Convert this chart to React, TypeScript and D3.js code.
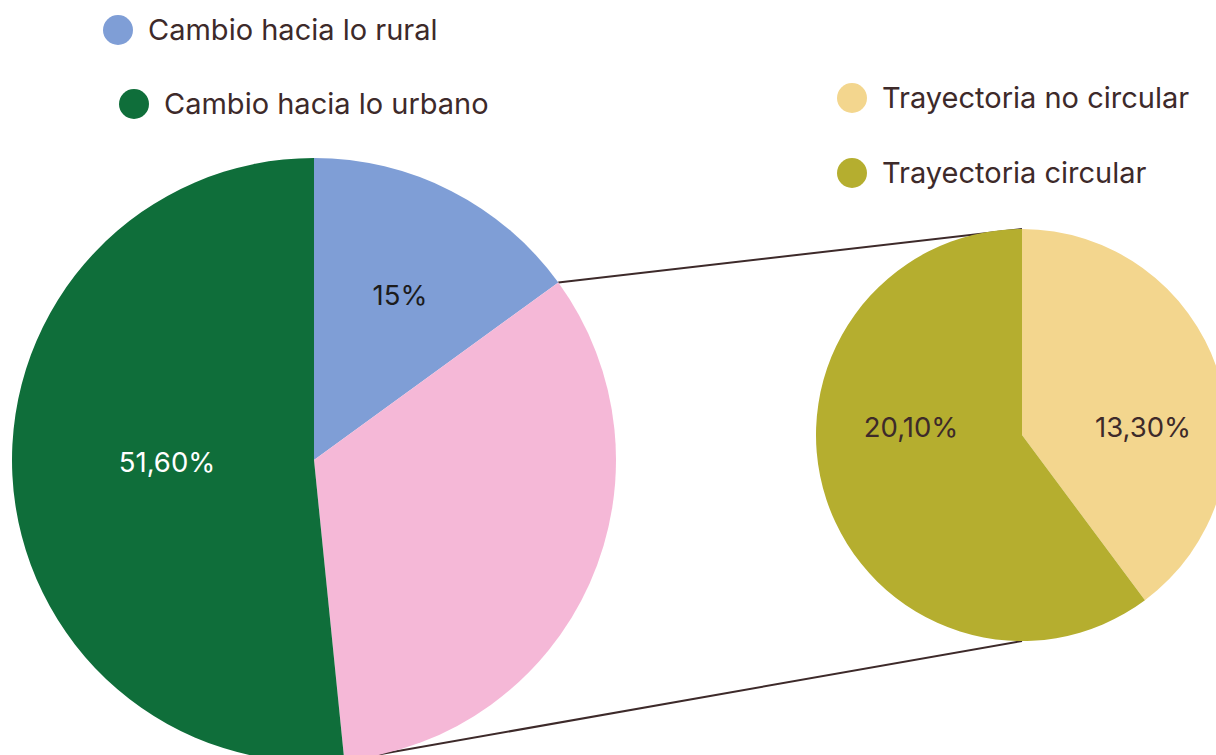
import React, { useEffect, useRef } from 'react';
import * as d3 from 'd3';

// main pie: rural, circular total (exploded), urbano
const mainNames = ['Cambio hacia lo rural', 'Detalle', 'Cambio hacia lo urbano'];
const mainValues = [15, 33.4, 51.6];
const mainLabels = ['15%', '', '51,60%'];
const mainColors = ['#7f9ed6', '#f5b8d7', '#0f6e3a'];

// detail pie: breakdown of the pink slice
const subNames = ['Trayectoria no circular', 'Trayectoria circular'];
const subValues = [13.3, 20.1];
const subLabels = ['13,30%', '20,10%'];
const subColors = ['#f3d68e', '#b5ae2f'];

const W = 1216;
const H = 755;
const FONT = 'Inter, "Noto Sans", sans-serif';
const TEXT = '#3d2a2a';

export default function App() {
  const svgRef = useRef<SVGSVGElement | null>(null);

  useEffect(() => {
    const svg = d3.select(svgRef.current);
    svg.selectAll('*').remove();

    const big = { cx: 314, cy: 460, r: 302 };
    const small = { cx: 1022, cy: 435, r: 206 };

    const pie = d3.pie<number>().sort(null).value(d => d);
    const mainArcs = pie(mainValues);
    const subArcs = pie(subValues);

    // connector lines from pink slice edges to top / bottom of detail pie
    const pink = mainArcs[1];
    const edge = (c: typeof big, a: number) => [c.cx + c.r * Math.sin(a), c.cy - c.r * Math.cos(a)];
    const [x1, y1] = edge(big, pink.startAngle);
    const [x2, y2] = edge(big, pink.endAngle);
    const [sx1, sy1] = edge(small, 0);
    const [sx2, sy2] = edge(small, Math.PI);

    const links = svg.append('g').attr('stroke', TEXT).attr('stroke-width', 2);
    links.append('line').attr('x1', x1).attr('y1', y1).attr('x2', sx1).attr('y2', sy1);
    links.append('line').attr('x1', x2).attr('y1', y2).attr('x2', sx2).attr('y2', sy2);

    const bigArc = d3.arc<d3.PieArcDatum<number>>().innerRadius(0).outerRadius(big.r);
    const gBig = svg.append('g').attr('transform', `translate(${big.cx},${big.cy})`);
    gBig.selectAll('path')
      .data(mainArcs)
      .join('path')
      .attr('d', bigArc)
      .attr('fill', (_, i) => mainColors[i]);

    const smallArc = d3.arc<d3.PieArcDatum<number>>().innerRadius(0).outerRadius(small.r);
    const gSmall = svg.append('g').attr('transform', `translate(${small.cx},${small.cy})`);
    gSmall.selectAll('path')
      .data(subArcs)
      .join('path')
      .attr('d', smallArc)
      .attr('fill', (_, i) => subColors[i]);

    // value labels (placed by hand like the original)
    const mainPos = [[86, -165, '#1c1c1c'], [0, 0, ''], [-147, 2, '#ffffff']];
    gBig.selectAll('text.val')
      .data(mainLabels)
      .join('text')
      .attr('class', 'val')
      .attr('x', (_, i) => mainPos[i][0] as number)
      .attr('y', (_, i) => mainPos[i][1] as number)
      .attr('dy', '0.35em')
      .attr('text-anchor', 'middle')
      .attr('font-family', FONT)
      .attr('font-size', 27.5)
      .attr('fill', (_, i) => mainPos[i][2] as string)
      .text(d => d);

    const subPos = [[121, -8], [-111, -8]];
    gSmall.selectAll('text.val')
      .data(subLabels)
      .join('text')
      .attr('class', 'val')
      .attr('x', (_, i) => subPos[i][0])
      .attr('y', (_, i) => subPos[i][1])
      .attr('dy', '0.35em')
      .attr('text-anchor', 'middle')
      .attr('font-family', FONT)
      .attr('font-size', 27.5)
      .attr('fill', TEXT)
      .text(d => d);

    // legends
    const legendItems = [
      { name: mainNames[0], color: mainColors[0], x: 118, y: 30 },
      { name: mainNames[2], color: mainColors[2], x: 134, y: 104 },
      { name: subNames[0], color: subColors[0], x: 852, y: 98 },
      { name: subNames[1], color: subColors[1], x: 852, y: 173 },
    ];
    const lg = svg.append('g').selectAll('g')
      .data(legendItems)
      .join('g')
      .attr('transform', d => `translate(${d.x},${d.y})`);
    lg.append('circle').attr('r', 15).attr('fill', d => d.color);
    lg.append('text')
      .attr('x', 30)
      .attr('dy', '0.35em')
      .attr('font-family', FONT)
      .attr('font-size', 29)
      .attr('fill', TEXT)
      .text(d => d.name);
  }, []);

  return (
    <svg
      ref={svgRef}
      width={W}
      height={H}
      style={{ position: 'absolute', left: 0, top: 0, background: '#ffffff' }}
    />
  );
}
